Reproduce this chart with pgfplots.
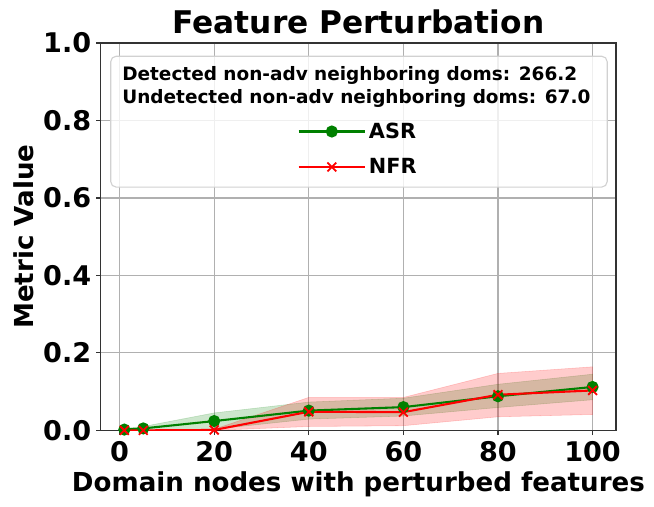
\documentclass[border=0pt]{standalone}
\usepackage{fontspec}
\setmainfont{DejaVu Sans}
\usepackage{pgfplots}
\pgfplotsset{compat=1.18}
\usepgfplotslibrary{fillbetween}

\definecolor{mplgreen}{HTML}{008000}
\definecolor{mplred}{HTML}{FF0000}
\definecolor{gridgray}{HTML}{B0B0B0}

\begin{document}
\begin{tikzpicture}
\begin{axis}[
    name=ax,
    width=371pt, height=279pt,
    scale only axis,
    xmin=-3.95, xmax=104.95,
    ymin=0, ymax=1,
    xtick={0,20,40,60,80,100},
    ytick={0,0.2,0.4,0.6,0.8,1.0},
    yticklabel style={/pgf/number format/.cd,fixed,fixed zerofill,precision=1},
    /pgf/number format/assume math mode=true,
    tick label style={font=\bfseries\fontsize{19.5}{22}\selectfont},
    xticklabel style={yshift=-1pt},
    tick align=outside,
    tick pos=left,
    major tick length=3.5pt,
    grid=major,
    major grid style={draw=gridgray, line width=0.8pt},
    axis line style={draw=black!80, line width=0.8pt},
    every tick/.style={draw=black!80, line width=0.8pt},
    title={Feature Perturbation},
    title style={font=\bfseries\fontsize{22.5}{26}\selectfont, yshift=-3pt},
    xlabel={Domain nodes with perturbed features},
    ylabel={Metric Value},
    label style={font=\bfseries\fontsize{18.8}{22}\selectfont},
    legend style={at={(axis description cs:0.5,0.726)}, anchor=center,
        draw=none, fill=none, font=\bfseries\fontsize{15}{18}\selectfont,
        row sep=9pt, inner sep=0pt},
    legend cell align=left,
    legend image code/.code={
        \draw[mark repeat=2,mark phase=2,#1] plot coordinates {(0pt,0pt) (24pt,0pt) (48pt,0pt)};
    },
]

% ASR band
\addplot[name path=gu, draw=none, forget plot] coordinates {
    (1,0.005) (5,0.010) (20,0.045) (40,0.073) (60,0.083) (80,0.119) (100,0.145)};
\addplot[name path=gl, draw=none, forget plot] coordinates {
    (1,0) (5,0) (20,0.003) (40,0.029) (60,0.037) (80,0.059) (100,0.079)};
\addplot[fill=mplgreen, fill opacity=0.2, draw=mplgreen, draw opacity=0.2, forget plot]
    fill between[of=gu and gl];

% NFR band
\addplot[name path=ru, draw=none, forget plot] coordinates {
    (1,0) (5,0) (20,0.003) (40,0.085) (60,0.085) (80,0.147) (100,0.164)};
\addplot[name path=rl, draw=none, forget plot] coordinates {
    (1,0) (5,0) (20,0) (40,0.010) (60,0.012) (80,0.035) (100,0.041)};
\addplot[fill=mplred, fill opacity=0.2, draw=mplred, draw opacity=0.2, forget plot]
    fill between[of=ru and rl];

\addplot[mplgreen, line width=1.5pt, mark=*, mark size=3.6pt,
    mark options={solid, fill=mplgreen}] coordinates {
    (1,0.002) (5,0.005) (20,0.024) (40,0.051) (60,0.060) (80,0.088) (100,0.112)};
\addplot[mplred, line width=1.5pt, mark=x, mark size=4.5pt,
    mark options={solid, line width=1.3pt}] coordinates {
    (1,0) (5,0) (20,0.001) (40,0.048) (60,0.047) (80,0.092) (100,0.103)};
\legend{ASR, NFR}

\draw[rounded corners=4pt, draw=black!18, line width=0.8pt, fill=white, fill opacity=0.8]
    (axis description cs:0.019,0.628) rectangle (axis description cs:0.983,0.966);
\node[anchor=base west, inner sep=0pt, font=\bfseries\fontsize{13.3}{16}\selectfont]
    at (axis description cs:0.041,0.904) {Detected non-adv neighboring doms: 266.2};
\node[anchor=base west, inner sep=0pt, font=\bfseries\fontsize{13.3}{16}\selectfont]
    at (axis description cs:0.041,0.845) {Undetected non-adv neighboring doms: 67.0};
\end{axis}
\pgfresetboundingbox
\path[use as bounding box] ([xshift=-72.7pt,yshift=-54.7pt]ax.south west)
    rectangle ([xshift=27.4pt,yshift=31pt]ax.north east);
\end{tikzpicture}
\end{document}
